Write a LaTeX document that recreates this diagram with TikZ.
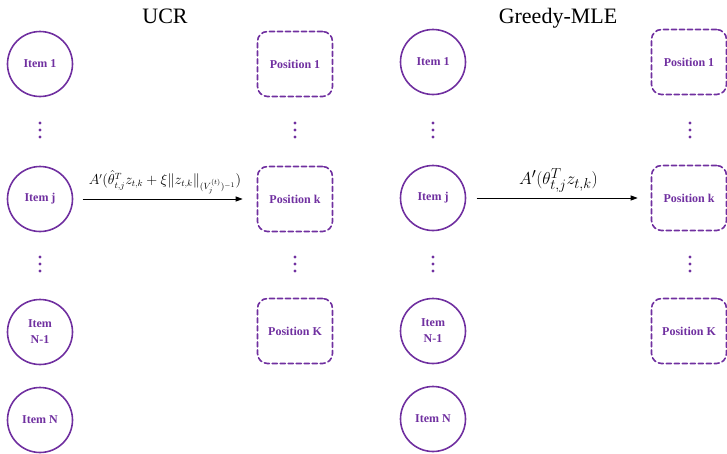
\documentclass[tikz,border=0pt]{standalone}
\usepackage{fontspec}
\setmainfont{Liberation Serif}
\usetikzlibrary{arrows.meta,positioning}
\definecolor{itempurple}{HTML}{7030A0}
\tikzset{
  item/.style={circle,draw=itempurple,line width=1.6pt,minimum size=65pt,inner sep=0pt,
    text=itempurple,align=center,font=\fontsize{12}{16}\selectfont\bfseries},
  slot/.style={rectangle,rounded corners=10pt,draw=itempurple,line width=1.6pt,
    dash pattern=on 5pt off 3pt,minimum width=75pt,minimum height=65pt,
    text=itempurple,font=\fontsize{12}{16}\selectfont\bfseries},
  heading/.style={anchor=base,font=\fontsize{22}{24}\selectfont},
  edge/.style={-{Triangle[length=7pt,width=5pt]},line width=0.9pt},
}

\begin{document}
\begin{tikzpicture}[x=1pt,y=-1pt,line cap=round,line join=round]
  \useasboundingbox (0,0) rectangle (727,453);
  \node[heading] (tl) at (165,23) {UCR};
  \node[heading] (tr) at (558,23) {Greedy-MLE};
  % UCR
  \node[item] (L1) at (40,64) {Item 1};
  \node[item] (Lj) at (40,199) {Item j};
  \node[item] (Ln1) at (40,332) {Item\\N-1};
  \node[item] (Ln) at (40,420) {Item N};
  \node[slot] (P1) at (295,64) {Position 1};
  \node[slot] (Pk) at (295,199) {Position k};
  \node[slot] (PK) at (295,331) {Position K};
  \draw[edge,shorten <=10pt,shorten >=14pt] (Lj) -- node[above=1pt,font=\fontsize{13.5}{15}\selectfont]
    {$A'(\hat{\theta}^T_{t,j} z_{t,k} + \xi \|z_{t,k}\|_{(V_j^{(t)})^{-1}})$} (Pk);
  % Greedy-MLE
  \node[item] (R1) at (433,62) {Item 1};
  \node[item] (Rj) at (433,198) {Item j};
  \node[item] (Rn1) at (433,331) {Item\\N-1};
  \node[item] (Rn) at (433,419) {Item N};
  \node[slot] (Q1) at (689,62) {Position 1};
  \node[slot] (Qk) at (689,198) {Position k};
  \node[slot] (QK) at (689,331) {Position K};
  \draw[edge,shorten <=11pt,shorten >=13pt] (Rj) -- node[above=2pt,font=\fontsize{19}{20}\selectfont]
    {$A'(\theta^T_{t,j} z_{t,k})$} (Qk);
  % dots
  \foreach \x in {40,295,433,690}
    \foreach \y in {130,264}
      \foreach \d in {-7,0,7}
        \fill[itempurple] (\x,\y+\d) circle (1.7);
\end{tikzpicture}
\end{document}
